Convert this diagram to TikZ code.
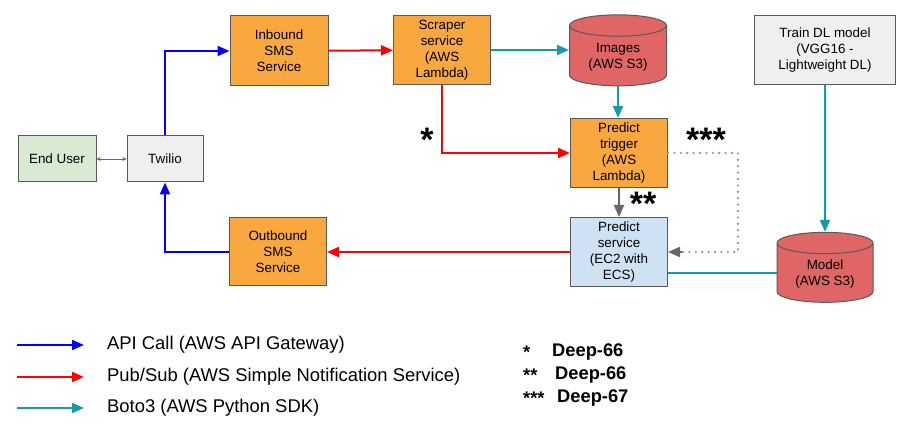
\documentclass[tikz,border=0pt]{standalone}
\usepackage{fontspec}
\setmainfont{Liberation Sans}
\usetikzlibrary{arrows.meta,shapes.geometric}
\definecolor{boxline}{HTML}{595959}
\definecolor{lambdaorange}{HTML}{F9A83F}
\definecolor{bucketred}{HTML}{E06666}
\definecolor{userfill}{HTML}{D9EAD3}
\definecolor{greyfill}{HTML}{EFEFEF}
\definecolor{ecsfill}{HTML}{CFE2F3}
\definecolor{boto}{HTML}{139BAA}
\definecolor{linkgrey}{HTML}{666666}
\definecolor{dotgrey}{HTML}{999999}
\begin{document}
\begin{tikzpicture}[x=1pt, y=-1pt,
    box/.style={rectangle, draw=boxline, line width=1pt, align=center,
        minimum width=97pt, minimum height=69pt, inner sep=1pt,
        font=\fontsize{13.4}{16}\selectfont},
    bucket/.style={cylinder, shape border rotate=90, aspect=0.35, draw=boxline,
        line width=1pt, fill=bucketred, align=center, minimum width=97pt,
        minimum height=71pt, inner sep=1pt, font=\fontsize{13.4}{16}\selectfont},
    tip/.style={-{Triangle[length=12pt,width=10pt]}},
    api/.style={tip, blue, line width=2pt},
    sns/.style={tip, red, line width=2pt},
    boto3/.style={tip, boto, line width=2pt},
    star/.style={font=\fontsize{34}{34}\bfseries\selectfont, inner sep=0pt},
    legend/.style={anchor=west, font=\fontsize{18.4}{22}\selectfont, inner sep=0pt},
    note/.style={anchor=west, font=\fontsize{18.3}{22}\bfseries\selectfont, inner sep=0pt}]
    \useasboundingbox (0,0) rectangle (911,438);

    % Nodes (services)
    \node[box, fill=userfill, minimum width=78pt, minimum height=46pt] (user) at (57,159) {End User};
    \node[box, fill=greyfill, minimum width=76pt, minimum height=46pt] (twilio) at (165,159) {Twilio};
    \node[box, fill=lambdaorange, minimum width=98pt, minimum height=70pt] (inbound) at (279,51) {Inbound\\SMS\\Service};
    \node[box, fill=lambdaorange] (scraper) at (442,50) {Scraper\\service\\(AWS\\Lambda)};
    \node[bucket] (images) at (618,57) {Images\\(AWS S3)};
    \node[box, fill=lambdaorange] (trigger) at (619,153) {Predict\\trigger\\(AWS\\Lambda)};
    \node[box, fill=ecsfill] (predict) at (619,252) {Predict\\service\\(EC2 with\\ECS)};
    \node[box, fill=lambdaorange, minimum height=68pt] (outbound) at (278,252) {Outbound\\SMS\\Service};
    \node[box, fill=greyfill, minimum width=141pt] (train) at (825,50) {Train DL model\\(VGG16 -\\Lightweight DL)};
    \node[bucket, minimum width=96pt, minimum height=70pt] (model) at (825,274) {Model\\(AWS S3)};

    % API calls
    \draw[{Stealth[length=4pt,width=4pt]}-{Stealth[length=4pt,width=4pt]}, linkgrey, line width=0.8pt] (user) -- (twilio);
    \draw[api] (twilio.north) |- (inbound.west);
    \draw[api] (outbound.west) -| (twilio.south);

    % Pub/Sub
    \draw[sns] (inbound) -- (scraper);
    \draw[sns] (scraper.south) |- (trigger.west);
    \draw[sns] (predict.west) -- (predict.west -| outbound.east);

    % Boto3
    \draw[boto3] (scraper.east) -- (scraper.east -| images.west);
    \draw[boto3] (images.south) -- (images.south |- trigger.north);
    \draw[boto3] (train) -- (model);
    \draw[boto, line width=2pt] ([yshift=-21pt]predict.east) -- ([yshift=-21pt]predict.east -| model.west);

    % Trigger to service
    \draw[-{Triangle[length=12pt,width=10pt]}, linkgrey, line width=2pt] (trigger) -- (predict);
    \draw[dotgrey, line width=2.6pt, line cap=round, dash pattern=on 0pt off 6.4pt]
        (trigger.east) -- ++(70,0) |- ([xshift=14pt]predict.east);
    \draw[-{Triangle[length=12pt,width=10pt]}, linkgrey, line width=2pt]
        ([xshift=14pt]predict.east) -- (predict.east);

    % Ticket marks
    \node[star] (s1) at (427,140) {*};
    \node[star] (s2) at (643,204) {**};
    \node[star] (s3) at (706,140) {***};

    % Legend
    \coordinate (a1) at (17,345); \coordinate (a2) at (84,345);
    \coordinate (b1) at (17,377); \coordinate (b2) at (84,377);
    \coordinate (c1) at (17,408); \coordinate (c2) at (84,408);
    \draw[api] (a1) -- (a2);
    \draw[sns] (b1) -- (b2);
    \draw[boto3] (c1) -- (c2);
    \node[legend] (la) at (107,345) {API Call (AWS API Gateway)};
    \node[legend] (lb) at (107,377) {Pub/Sub (AWS Simple Notification Service)};
    \node[legend] (lc) at (107,408) {Boto3 (AWS Python SDK)};

    % Ticket notes
    \node[note] (n1) at (523,352) {*};
    \node[note] (n2) at (523,375) {**};
    \node[note] (n3) at (523,398) {***};
    \node[note] (d1) at (552,352) {Deep-66};
    \node[note] (d2) at (555,375) {Deep-66};
    \node[note] (d3) at (557,398) {Deep-67};
\end{tikzpicture}
\end{document}
